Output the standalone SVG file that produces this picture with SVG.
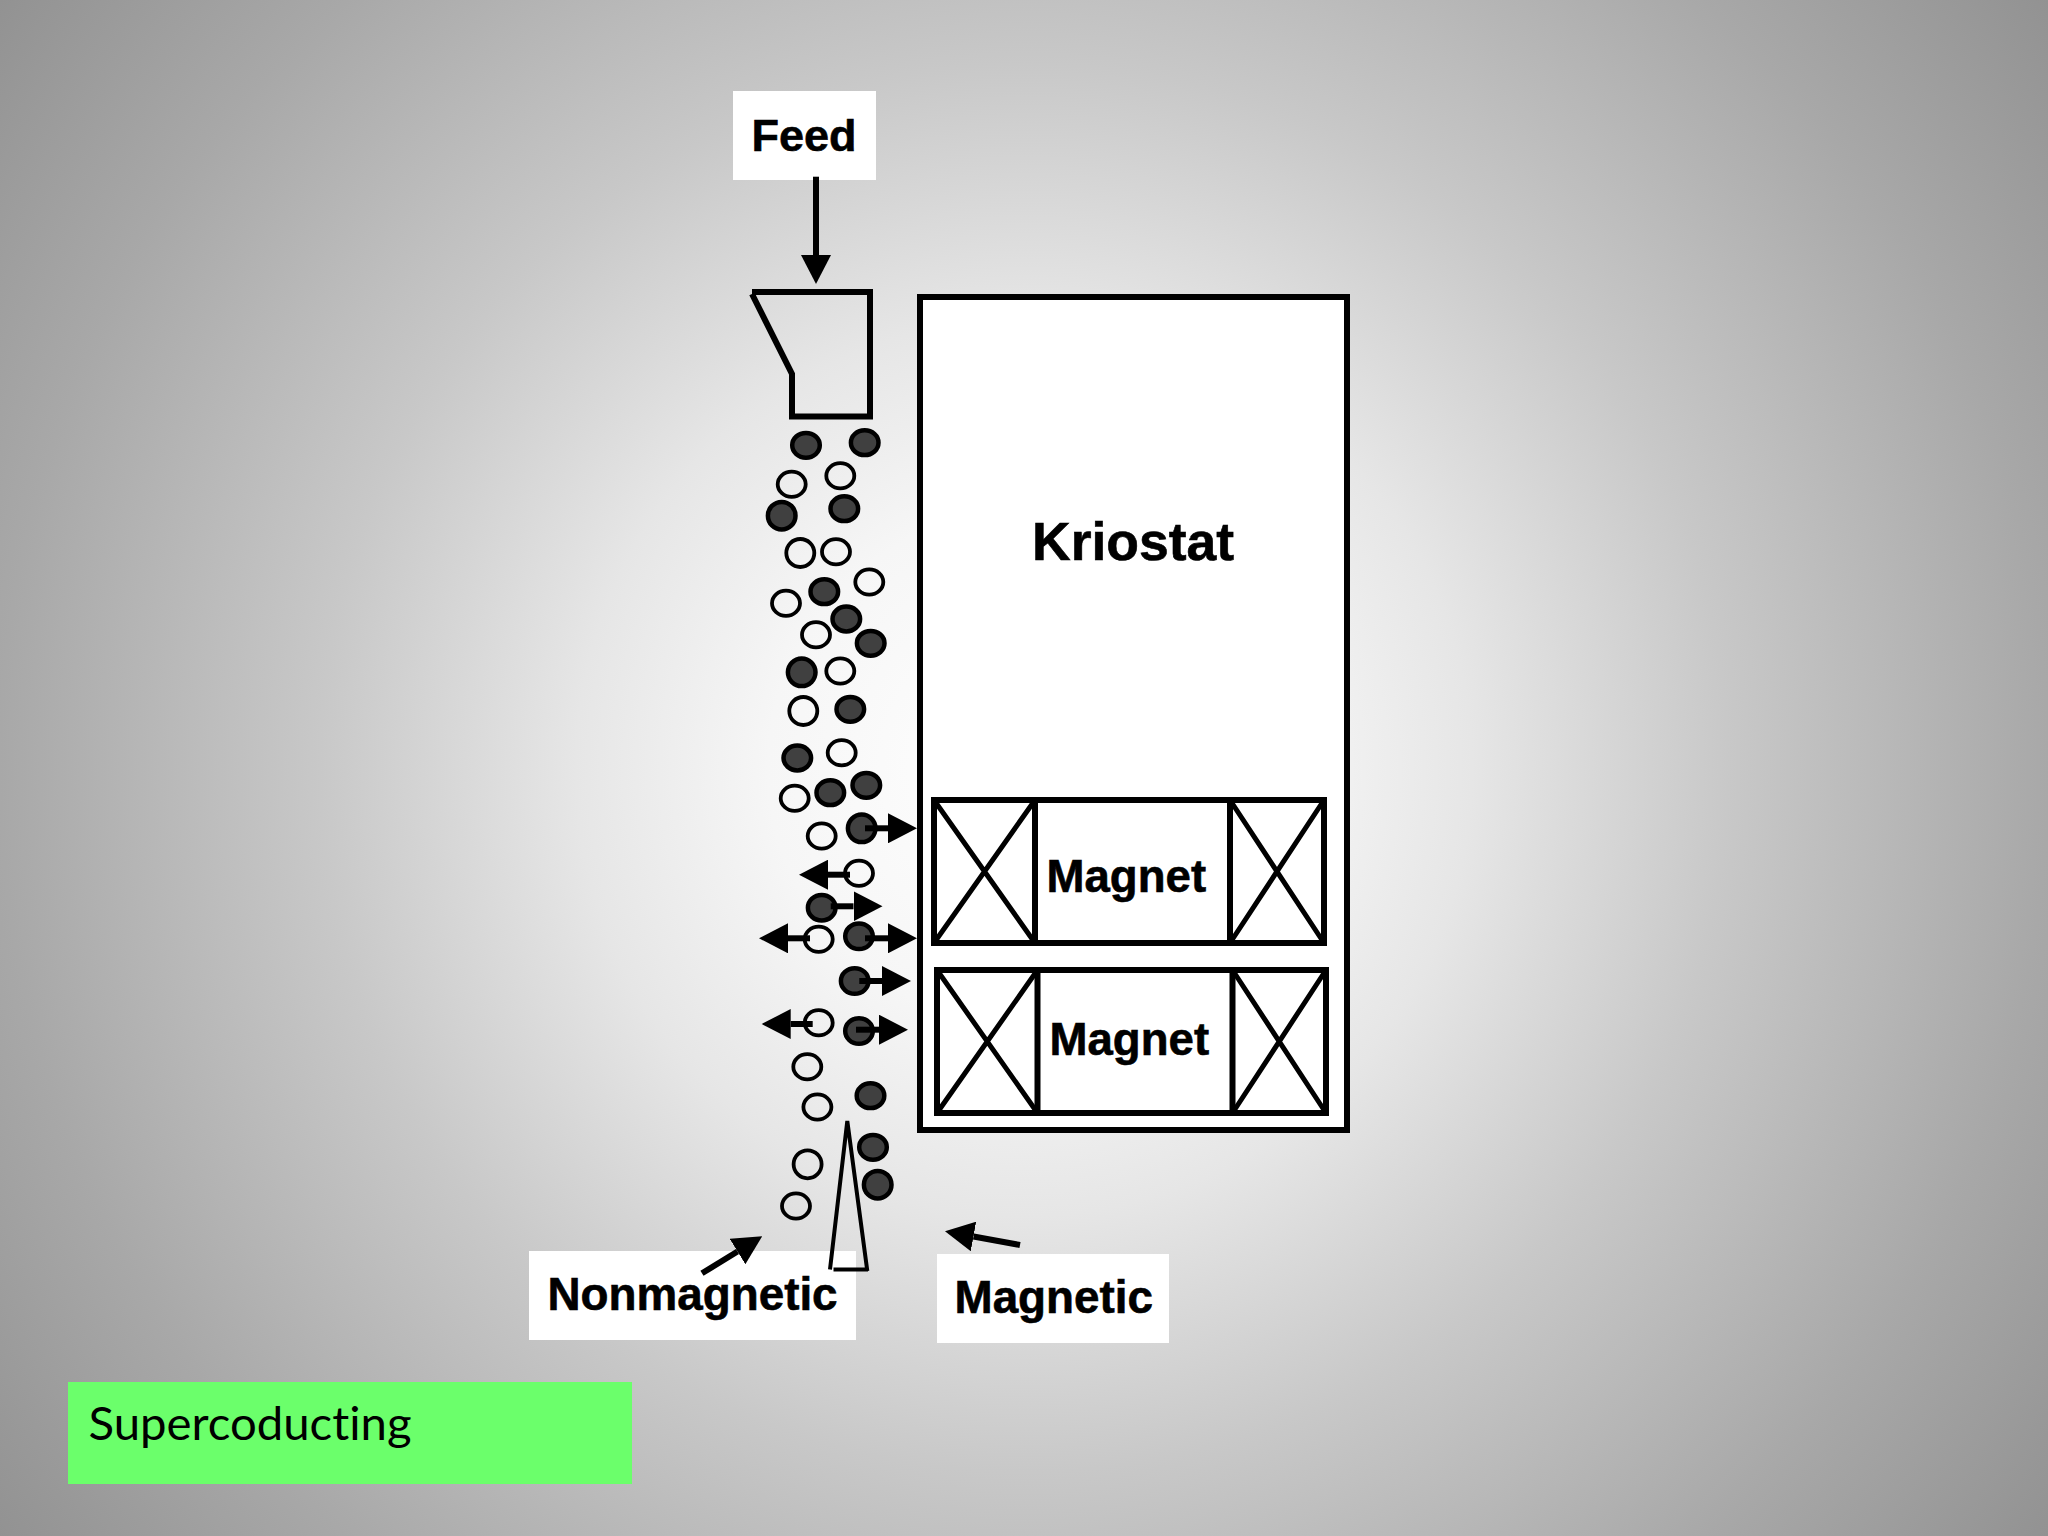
<svg xmlns="http://www.w3.org/2000/svg" width="2048" height="1536" viewBox="0 0 2048 1536">
<style>
text{font-family:"Liberation Sans",Arial,sans-serif;font-weight:700;fill:#000;stroke:#000;stroke-width:.6}
.lbl{fill:#fff}
.o{fill:#fff;stroke:#000;stroke-width:6}
.thin{fill:none;stroke:#000;stroke-width:5}
.hop{fill:none;stroke:#000;stroke-width:6}
.d{fill:#404040;stroke:#000;stroke-width:4.5}
.l{fill:none;stroke:#000;stroke-width:3.8}
.c{fill:none;stroke:#000;stroke-width:6}
</style>
<defs>
<radialGradient id="bg" gradientUnits="userSpaceOnUse" cx="1024" cy="768" r="1280">
<stop offset="0" stop-color="#ffffff"/>
<stop offset="0.2" stop-color="#f6f6f6"/>
<stop offset="0.35" stop-color="#e6e6e6"/>
<stop offset="0.55" stop-color="#c8c8c8"/>
<stop offset="0.8" stop-color="#a8a8a8"/>
<stop offset="1" stop-color="#929292"/>
</radialGradient>
<marker id="ah" markerUnits="userSpaceOnUse" markerWidth="30" markerHeight="30" refX="0" refY="15" orient="auto">
<path d="M0,0 L29,15 L0,30 Z" fill="#000" stroke="none"/>
</marker>
</defs>
<rect width="2048" height="1536" fill="url(#bg)"/>
<g id="feed-label"><rect class="lbl" x="733" y="91" width="143" height="89"/><text x="751.5" y="150.5" font-size="45">Feed</text></g>
<g id="hopper"><path class="hop" d="M752,292 H870 V416.5 H792 V374 L752,294"/></g>
<g id="kriostat"><rect class="o" x="920" y="297" width="427" height="833"/><text x="1032" y="560" font-size="53.5">Kriostat</text></g>
<g id="magnet-1">
<rect class="o" x="934" y="800" width="390" height="143"/>
<path class="c" d="M1035,800 V943 M1230,800 V943"/>
<path class="thin" d="M934,800 L1035,943 M1035,800 L934,943 M1230,800 L1324,943 M1324,800 L1230,943"/>
<text x="1046.5" y="892" font-size="45.6">Magnet</text>
</g>
<g id="magnet-2">
<rect class="o" x="937" y="970" width="389" height="143"/>
<path class="c" d="M1037.5,970 V1113 M1232.5,970 V1113"/>
<path class="thin" d="M937,970 L1037.5,1113 M1037.5,970 L937,1113 M1232.5,970 L1326,1113 M1326,970 L1232.5,1113"/>
<text x="1049.5" y="1055" font-size="45.6">Magnet</text>
</g>
<g id="nonmagnetic-label"><rect class="lbl" x="529" y="1251" width="327" height="89"/><text x="547.5" y="1310" font-size="45.8">Nonmagnetic</text></g>
<g id="magnetic-label"><rect class="lbl" x="937" y="1254" width="232" height="89"/><text x="954.5" y="1313" font-size="45.8">Magnetic</text></g>
<g id="green-label"><rect x="68" y="1382" width="564" height="102" fill="#6bff6b"/><text x="88.5" y="1440" font-size="46" style="font-family:Lato,'Open Sans',sans-serif;font-weight:400;stroke:none;font-variant-ligatures:none" textLength="323" lengthAdjust="spacingAndGlyphs">Supercoducting</text></g>
<g id="magnetic-particles">
<ellipse class="d" cx="806" cy="445.3" rx="13.8" ry="12.4"/>
<ellipse class="d" cx="864.7" cy="442.7" rx="13.8" ry="12.4"/>
<ellipse class="d" cx="781.7" cy="515.7" rx="13.8" ry="13.8"/>
<ellipse class="d" cx="844.3" cy="508.7" rx="13.8" ry="12.4"/>
<ellipse class="d" cx="824.3" cy="591.7" rx="13.8" ry="12.4"/>
<ellipse class="d" cx="846.3" cy="619" rx="13.8" ry="12.4"/>
<ellipse class="d" cx="870.7" cy="643.3" rx="13.8" ry="12.4"/>
<ellipse class="d" cx="801.7" cy="672.3" rx="13.8" ry="13.8"/>
<ellipse class="d" cx="850.3" cy="709.3" rx="13.8" ry="12.4"/>
<ellipse class="d" cx="797.3" cy="758" rx="13.8" ry="12.4"/>
<ellipse class="d" cx="830.3" cy="792.7" rx="13.8" ry="12.4"/>
<ellipse class="d" cx="866.3" cy="785.3" rx="13.8" ry="12.4"/>
<ellipse class="d" cx="861.7" cy="828.3" rx="13.8" ry="13.8"/>
<ellipse class="d" cx="821.7" cy="907.7" rx="13.8" ry="12.8"/>
<ellipse class="d" cx="859" cy="936.3" rx="13.8" ry="12.8"/>
<ellipse class="d" cx="854.7" cy="981" rx="13.8" ry="12.8"/>
<ellipse class="d" cx="859" cy="1031" rx="13.8" ry="12.8"/>
<ellipse class="d" cx="870.5" cy="1095.7" rx="13.8" ry="12.4"/>
<ellipse class="d" cx="873" cy="1147.3" rx="13.8" ry="12.4"/>
<ellipse class="d" cx="877.7" cy="1184.7" rx="13.8" ry="13.8"/>
</g>
<g id="nonmagnetic-particles">
<ellipse class="l" cx="791.7" cy="484.3" rx="14" ry="12.6"/>
<ellipse class="l" cx="840.3" cy="475.7" rx="14" ry="12.6"/>
<ellipse class="l" cx="800.3" cy="553" rx="14" ry="14"/>
<ellipse class="l" cx="836" cy="551.7" rx="14" ry="12.6"/>
<ellipse class="l" cx="869.3" cy="582" rx="14" ry="12.6"/>
<ellipse class="l" cx="786" cy="603.3" rx="14" ry="12.6"/>
<ellipse class="l" cx="816" cy="634.7" rx="14" ry="12.6"/>
<ellipse class="l" cx="840.3" cy="671" rx="14" ry="12.6"/>
<ellipse class="l" cx="803.3" cy="711" rx="14" ry="14"/>
<ellipse class="l" cx="841.7" cy="752.7" rx="14" ry="12.6"/>
<ellipse class="l" cx="794.7" cy="798.3" rx="14" ry="12.6"/>
<ellipse class="l" cx="821.7" cy="836" rx="14" ry="12.6"/>
<ellipse class="l" cx="859" cy="873.3" rx="14" ry="12.6"/>
<ellipse class="l" cx="818.7" cy="939.3" rx="14" ry="12.6"/>
<ellipse class="l" cx="818.7" cy="1022.7" rx="14" ry="12.6"/>
<ellipse class="l" cx="807.3" cy="1066.7" rx="14" ry="12.6"/>
<ellipse class="l" cx="817.4" cy="1107" rx="14" ry="12.6"/>
<ellipse class="l" cx="807.6" cy="1164.3" rx="14" ry="14"/>
<ellipse class="l" cx="796" cy="1206" rx="14" ry="12.6"/>
</g>
<g id="splitter"><path fill="none" stroke="#000" stroke-width="4" d="M830,1269.5 L847.3,1121 L867.3,1271 M833.5,1269.5 H868"/></g>
<g id="connectors" stroke="#000" stroke-width="6" fill="none">
<line x1="816" y1="176.7" x2="816" y2="255" marker-end="url(#ah)"/>
<line x1="865" y1="828.3" x2="888" y2="828.3" marker-end="url(#ah)"/>
<line x1="850" y1="874.7" x2="828" y2="874.7" marker-end="url(#ah)"/>
<line x1="830.7" y1="906.3" x2="853.5" y2="906.3" marker-end="url(#ah)"/>
<line x1="810" y1="938.3" x2="788" y2="938.3" marker-end="url(#ah)"/>
<line x1="865" y1="938.3" x2="888" y2="938.3" marker-end="url(#ah)"/>
<line x1="859.3" y1="981" x2="882" y2="981" marker-end="url(#ah)"/>
<line x1="812.7" y1="1024" x2="790.7" y2="1024" marker-end="url(#ah)"/>
<line x1="856" y1="1029.7" x2="879" y2="1029.7" marker-end="url(#ah)"/>
<line x1="702" y1="1273.3" x2="737.5" y2="1251.5" marker-end="url(#ah)"/>
<line x1="1020" y1="1245" x2="973.5" y2="1236.5" marker-end="url(#ah)"/>
</g>
</svg>
